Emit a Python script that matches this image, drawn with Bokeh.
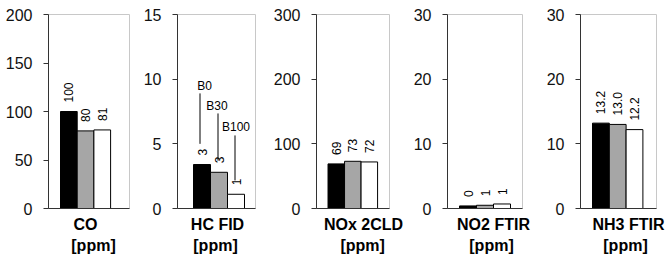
import numpy as np
from bokeh.plotting import figure
from bokeh.models import Range1d, FixedTicker, LinearAxis, CustomJSTickFormatter
from bokeh.layouts import row
from bokeh.core.properties import value
from bokeh.embed import file_html
from bokeh.resources import INLINE

# ---- data ----
pollutants = ["CO", "HC FID", "NOx 2CLD", "NO2 FTIR", "NH3 FTIR"]
unit = "[ppm]"
fuels = ["B0", "B30", "B100"]
co = [100, 80, 81]
hc = [3.4, 2.8, 1.1]
nox = [69, 73, 72]
no2 = [0.4, 0.5, 0.7]
nh3 = [13.2, 13.0, 12.2]
co_labels = ["100", "80", "81"]
hc_labels = ["3", "3", "1"]
nox_labels = ["69", "73", "72"]
no2_labels = ["0", "1", "1"]
nh3_labels = ["13.2", "13.0", "12.2"]
y_max = [200, 15, 300, 30, 30]
y_step = [50, 5, 100, 10, 10]

series_values = [co, hc, nox, no2, nh3]
series_labels = [co_labels, hc_labels, nox_labels, no2_labels, nh3_labels]

# ---- styles / layout ----
bar_colors = ["#000000", "#a6a6a6", "#ffffff"]
FONT = value("Liberation Sans")
fig_w = [140, 130, 135, 133, 131]
border_l = [48, 37, 43, 42, 42]
border_r = [11, 15, 16, 16, 13]
bar_left_px = [12, 16, 12, 12, 12]
bar_px = [16.7, 17, 17.2, 17, 16.8]
name_px = [37, 40, 49, 46, 48]
unit_px = [45, 38, 48, 44, 45]
H = 259
TOP = 14
FRAME_H = 194

# leader annotations in the HC panel
lead_text_y = [9.5, 7.9, 6.3]
lead_text_dx = [2.7, -2, 0]
lead_top = [8.9, 7.35, 5.65]
lead_bot = [5.0, 3.7, 2.17]
lead_dx = [-2, -1, -1]


def label_axis(ax, text, tick, standoff):
    ax.ticker = FixedTicker(ticks=[tick])
    ax.formatter = CustomJSTickFormatter(args=dict(lab=text), code="return lab;")
    ax.major_tick_line_color = None
    ax.major_tick_out = 0
    ax.major_tick_in = 0
    ax.minor_tick_line_color = None
    ax.minor_tick_out = 0
    ax.major_label_standoff = standoff
    ax.major_label_text_font = "Liberation Sans"
    ax.major_label_text_font_style = "bold"
    ax.major_label_text_font_size = "16px"
    ax.major_label_text_color = "#000000"


figs = []
for i in range(5):
    fw = fig_w[i] - border_l[i] - border_r[i]
    bw = bar_px[i]
    x0 = -bar_left_px[i] / bw
    x1 = (fw - bar_left_px[i]) / bw
    p = figure(width=fig_w[i], height=H, output_backend="svg", toolbar_location=None,
               x_range=Range1d(x0, x1), y_range=Range1d(0, y_max[i]),
               min_border_left=border_l[i], min_border_right=border_r[i],
               min_border_top=TOP, min_border_bottom=H - TOP - FRAME_H,
               background_fill_color="white", border_fill_color="white")
    p.outline_line_color = "#c8c8c8"
    p.xgrid.visible = False
    p.ygrid.visible = False

    centers = [0.5, 1.5, 2.5]
    vals = series_values[i]
    p.vbar(x=centers, top=vals, bottom=0, width=1.0, fill_color=bar_colors,
           line_color="#000000", line_width=1)
    p.text(x=centers, y=vals, text=series_labels[i], angle=np.pi / 2,
           text_align="left", text_baseline="middle", y_offset=-9,
           text_font=FONT, text_font_size="12px", text_color="#000000")

    if i == 1:
        xs = [c + d / bw for c, d in zip(centers, lead_dx)]
        p.segment(x0=xs, y0=lead_bot, x1=xs, y1=lead_top, line_color="#000000", line_width=1)
        xt = [c + d / bw for c, d in zip(centers, lead_text_dx)]
        p.text(x=xt, y=lead_text_y, text=fuels, text_align="center", text_baseline="middle",
               text_font=FONT, text_font_size="12px", text_color="#000000")

    # y axis
    yax = p.yaxis[0]
    yax.ticker = FixedTicker(ticks=list(np.arange(0, y_max[i] + 1, y_step[i])))
    yax.axis_line_color = "#333333"
    yax.major_tick_line_color = "#333333"
    yax.major_tick_out = 5
    yax.major_tick_in = 0
    yax.minor_tick_line_color = None
    yax.major_label_text_font = "Liberation Sans"
    yax.major_label_text_font_size = "16px"
    yax.major_label_text_color = "#111111"
    yax.major_label_standoff = 11

    # x axis: pollutant name
    xax = p.xaxis[0]
    xax.axis_line_color = "#333333"
    label_axis(xax, pollutants[i], (name_px[i] - bar_left_px[i]) / bw, 7)

    # second axis: unit
    uax = LinearAxis()
    uax.axis_line_color = None
    label_axis(uax, unit, (unit_px[i] - bar_left_px[i]) / bw, 1)
    p.add_layout(uax, "below")

    figs.append(p)

layout = row(*figs, spacing=0)
open("out.html", "w").write(file_html(layout, INLINE))
